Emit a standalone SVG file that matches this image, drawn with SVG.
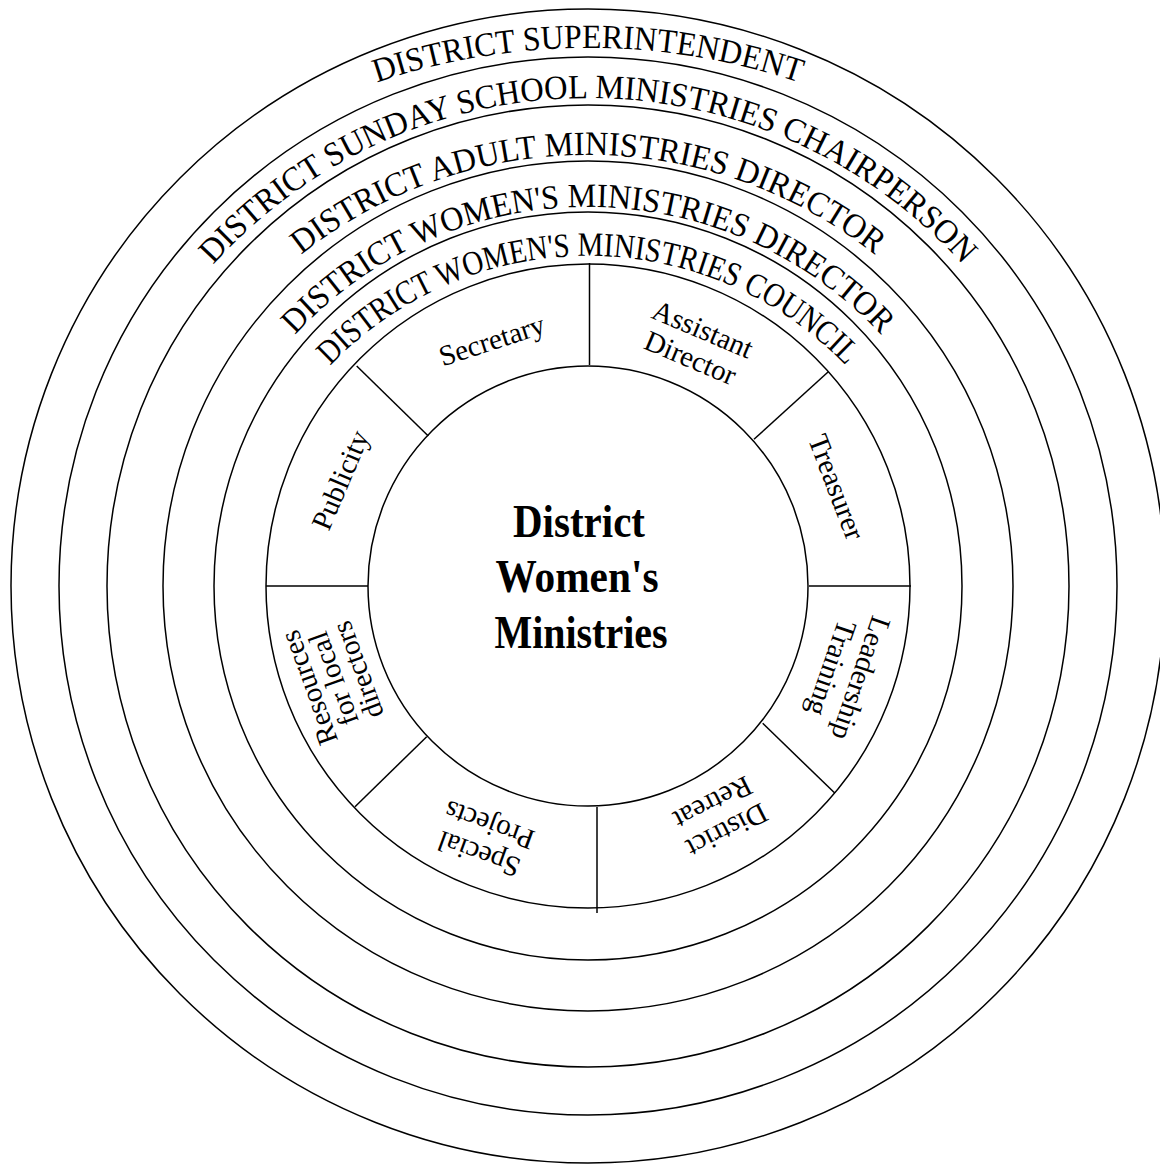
<svg xmlns="http://www.w3.org/2000/svg" width="1160" height="1167" viewBox="0 0 1160 1167">
<style>
  .ring { fill: none; stroke: #000; stroke-width: 1.5; }
  .div { stroke: #000; stroke-width: 1.5; fill: none; }
  .rt { font-family: "Liberation Serif", "Times New Roman", serif; font-size: 34px; fill: #000; }
  .lb { font-family: "Liberation Serif", "Times New Roman", serif; font-size: 29px; fill: #000; text-anchor: middle; }
  .ct { font-family: "Liberation Serif", "Times New Roman", serif; font-size: 46px; font-weight: bold; fill: #000; text-anchor: middle; }
</style>
<defs>
  <path id="p1" d="M 291.6 118 A 662 662 0 0 1 884.4 118"/>
  <path id="p2" d="M 169.8 320.4 A 504.5 504.5 0 0 1 1006.2 320.4"/>
  <path id="p3" d="M 253.4 298.4 A 462 462 0 0 1 922.6 298.4"/>
  <path id="p4" d="M 260.1 378.4 A 399.3 399.3 0 0 1 915.9 378.4"/>
  <path id="p5" d="M 297.9 404.4 A 357.6 357.6 0 0 1 878.1 404.4"/>
</defs>
<rect width="1160" height="1167" fill="#fff"/>

<g id="ring-superintendent">
  <circle class="ring" cx="588" cy="586" r="577"/>
  <text class="rt"><textPath href="#p1" startOffset="50%" text-anchor="middle" textLength="430" lengthAdjust="spacingAndGlyphs">DISTRICT SUPERINTENDENT</textPath></text>
</g>
<g id="ring-sunday-school">
  <circle class="ring" cx="588" cy="586" r="529"/>
  <text class="rt"><textPath href="#p2" startOffset="50%" text-anchor="middle" textLength="845" lengthAdjust="spacingAndGlyphs">DISTRICT SUNDAY SCHOOL MINISTRIES CHAIRPERSON</textPath></text>
</g>
<g id="ring-adult">
  <circle class="ring" cx="588" cy="586" r="481"/>
  <text class="rt"><textPath href="#p3" startOffset="50%" text-anchor="middle" textLength="619" lengthAdjust="spacingAndGlyphs">DISTRICT ADULT MINISTRIES DIRECTOR</textPath></text>
</g>
<g id="ring-womens-director">
  <circle class="ring" cx="588" cy="586" r="425"/>
  <text class="rt"><textPath href="#p4" startOffset="50%" text-anchor="middle" textLength="658" lengthAdjust="spacingAndGlyphs">DISTRICT WOMEN'S MINISTRIES DIRECTOR</textPath></text>
</g>
<g id="ring-council">
  <circle class="ring" cx="588" cy="586" r="374"/>
  <text class="rt"><textPath href="#p5" startOffset="50%" text-anchor="middle" textLength="576" lengthAdjust="spacingAndGlyphs">DISTRICT WOMEN'S MINISTRIES COUNCIL</textPath></text>
</g>
<g id="ring-segments">
  <circle class="ring" cx="588" cy="586" r="322"/>
</g>

<g id="center">
  <circle class="ring" cx="588" cy="586" r="220"/>
  <text class="ct" x="579" y="537" textLength="132" lengthAdjust="spacingAndGlyphs">District</text>
  <text class="ct" x="577" y="592" textLength="163" lengthAdjust="spacingAndGlyphs">Women's</text>
  <text class="ct" x="581" y="648" textLength="173" lengthAdjust="spacingAndGlyphs">Ministries</text>
</g>

<g id="connectors">
  <line class="div" x1="589.5" y1="263" x2="589.5" y2="365"/>
  <line class="div" x1="828.3" y1="371.7" x2="754" y2="439.3"/>
  <line class="div" x1="809" y1="586" x2="911" y2="586"/>
  <line class="div" x1="762.7" y1="723.3" x2="835" y2="793.3"/>
  <line class="div" x1="597" y1="807" x2="597" y2="913"/>
  <line class="div" x1="426.7" y1="736.7" x2="355" y2="806.7"/>
  <line class="div" x1="266" y1="586" x2="368" y2="586"/>
  <line class="div" x1="356.7" y1="366" x2="428.3" y2="436"/>
</g>

<g id="seg-secretary">
  <text class="lb" transform="translate(491.7,340) rotate(-18)" y="10">Secretary</text>
</g>
<g id="seg-assistant-director">
  <text class="lb" transform="translate(696.7,343.3) rotate(23)"><tspan x="0" y="-5.5">Assistant</tspan><tspan x="0" y="25.5">Director</tspan></text>
</g>
<g id="seg-treasurer">
  <text class="lb" transform="translate(836.7,486.7) rotate(69)" y="10">Treasurer</text>
</g>
<g id="seg-leadership-training">
  <text class="lb" transform="translate(846.7,673.3) rotate(109)"><tspan x="0" y="-5.5">Leadership</tspan><tspan x="0" y="25.5">Training</tspan></text>
</g>
<g id="seg-district-retreat">
  <text class="lb" transform="translate(720,817) rotate(153)"><tspan x="0" y="-5.5">District</tspan><tspan x="0" y="25.5">Retreat</tspan></text>
</g>
<g id="seg-special-projects">
  <text class="lb" transform="translate(484,840) rotate(200)"><tspan x="0" y="-5.5">Special</tspan><tspan x="0" y="25.5">Projects</tspan></text>
</g>
<g id="seg-resources">
  <text class="lb" transform="translate(333,679) rotate(250)"><tspan x="0" y="-16">Resources</tspan><tspan x="0" y="10">for local</tspan><tspan x="0" y="36">directors</tspan></text>
</g>
<g id="seg-publicity">
  <text class="lb" transform="translate(340,480) rotate(-67)" y="10">Publicity</text>
</g>
</svg>
